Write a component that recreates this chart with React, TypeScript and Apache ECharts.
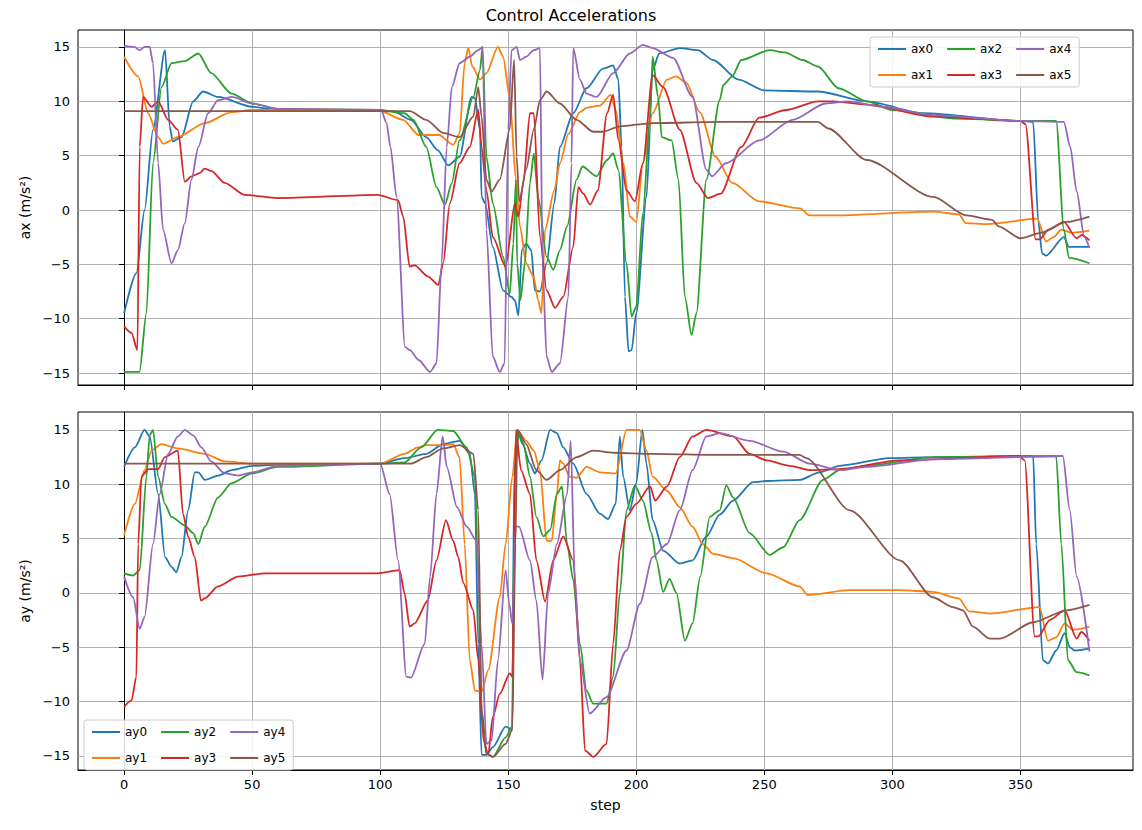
import React, { useEffect, useRef } from "react";
import * as echarts from "echarts";

const xTicks = [0, 50, 100, 150, 200, 250, 300, 350];
const yTicks = [-15, -10, -5, 0, 5, 10, 15];
const colors = ["#1f77b4", "#ff7f0e", "#2ca02c", "#d62728", "#9467bd", "#8c564b"];
const axNames = ["ax0", "ax1", "ax2", "ax3", "ax4", "ax5"];
const ayNames = ["ay0", "ay1", "ay2", "ay3", "ay4", "ay5"];

const ax0 = [[0,-9.5],[4.8,-5.8],[8,0],[11.3,7.4],[16,14.7],[17.8,7.7],[19,6.3],[22.4,6.7],[27,10],[30.8,10.9],[36.7,10.4],[50,9.5],[60,9.2],[99,9.2],[105,9.1],[112,8.3],[118,6.7],[122.5,5.5],[126.6,4.1],[131,4.9],[135.7,10.4],[137,10.3],[139,7.4],[139.6,1.2],[141,0.6],[144,-3.4],[148,-7.4],[151.3,-8],[152.6,-8.3],[154,-9.7],[155.3,-3.7],[157,-3.1],[159,-3.7],[160.4,-7.4],[162.4,-7.5],[165,-4.9],[168,0.6],[170.2,5.8],[175.4,8.9],[180.6,11.2],[187,13],[191,13.3],[193,12],[194.3,5.8],[195.6,-8],[197,-13],[198.2,-12.9],[200,-9.5],[204,1.2],[206.4,12.9],[209,14.4],[217,14.9],[224,14.7],[230,13.8],[240,12],[250,11],[271,10.9],[290,10],[312,8.9],[350,8.2],[355,8.1],[357,-1],[358.5,-4],[360,-4.2],[367,-2.5],[369,-3.4],[377,-3.4]];
const ax1 = [[0,14.1],[5.5,12.3],[9.4,8.9],[13.3,6.7],[15.2,6.1],[21,6.7],[31.5,8],[42,9],[50,9.2],[99,9.2],[109,8.3],[115,6.9],[123,6.9],[128.5,6],[131,7],[133,13.5],[134.4,14.9],[136,13.2],[139,12],[141.5,12.6],[146,15],[148,14.1],[150.6,10.4],[153,2.8],[154.6,-1.5],[157,-4.9],[159.9,-6.1],[161.7,-8.3],[163,-9.5],[164.4,-1.8],[168,1.8],[170.2,4.3],[173.5,7],[178,9],[180.6,9.4],[185.8,9.6],[190,10.6],[192,9.2],[195,4.3],[197.5,-0.6],[200,-1.1],[202.6,4.3],[206.4,8.9],[212,12],[215.5,12.3],[219.6,11.7],[224.8,9],[231,4.9],[237.5,2.5],[248,0.8],[264,0.15],[267.6,-0.5],[276,-0.5],[316,-0.15],[326,-0.4],[328.7,-1.2],[337,-1.3],[356.6,-0.8],[360,-2.9],[363,-2.5],[366,-1.8],[370,-2.1],[377,-1.9]];
const ax2 = [[0,-14.9],[6,-14.9],[8.7,-9.5],[11.3,4.3],[14.6,11.3],[18.5,13.5],[23.7,13.7],[29,14.4],[34,12.6],[42,10.7],[50,9.8],[60,9.3],[99,9.2],[109.5,8.9],[113,8.3],[118,5.8],[122,2.1],[125.3,0.5],[128,2.5],[131,6.4],[136.4,10.4],[139,12.9],[140,15],[141.5,4.9],[144,0.6],[148,-4.3],[150.6,-7.7],[152,-3.1],[153,2.8],[153.5,-4.9],[154.8,-8.3],[156.5,-4.9],[158.5,2.5],[160,5.2],[161.7,1.2],[165,-4.3],[167.6,-5.5],[170.2,-3.7],[173,-1.5],[176.7,2.8],[179,4],[184.5,3.1],[188.6,4.6],[191,5.2],[193,3.7],[196.2,-4.9],[198.2,-9.8],[200,-8.9],[202.6,-0.3],[205.5,8.9],[206.4,14.1],[208.5,10.4],[210,6.7],[213.8,6.4],[216.5,2.8],[219,-8],[221.6,-11.5],[223.5,-9.5],[227.4,2.8],[232.6,10.1],[234,11.5],[237.5,12.3],[241,13.8],[252,14.7],[258,14.5],[265,13.8],[271,13.2],[279,11.2],[290,10],[300,9.2],[325,8.4],[350,8.2],[364,8.2],[367,-1.8],[369,-4.4],[377,-4.9]];
const ax3 = [[0,-10.7],[2.9,-11.3],[5.2,-12.9],[6.1,5.8],[7.4,10.4],[10.7,9.5],[13.3,10],[17.2,8.3],[21,7.4],[23.7,2.6],[26.3,3.1],[29.5,3.4],[31.5,3.8],[34,3.6],[39.3,2.5],[47,1.4],[60,1.1],[99,1.4],[107,0.9],[109,-0.6],[111.5,-5.2],[113.5,-5.1],[118.6,-6.1],[122.7,-6.9],[124.6,-4.9],[127.2,0.6],[131,4.3],[135,5.8],[138.3,9.2],[139.6,5.8],[141.5,1.8],[144,-2.5],[149,-5.2],[152.6,0.6],[154,-0.6],[155.9,2.5],[158.5,8.9],[160,8.9],[162.4,-2.5],[165,-7.4],[168.3,-9],[171.5,-8],[175.4,-3.4],[177.4,2.1],[179.3,1.5],[182,0.5],[185,1.8],[188.6,8.9],[191,10.6],[193,6.5],[196.2,1.8],[199.5,0.8],[202.6,4.3],[206.4,12.4],[210.5,11.3],[217,7.4],[223.5,2.5],[228,1.1],[233,1.5],[241,5.8],[248,8.5],[258.5,9.2],[271,10],[277,10],[290,9.7],[316,8.6],[350,8.2],[352,7.9],[356,-2.7],[357.5,-2.7],[361,-1.8],[367,-1.1],[372,-2.6],[374,-2.3],[377,-2.8]];
const ax4 = [[0,15.1],[4,15],[6.1,14.7],[8,15],[10,15],[11.3,13.5],[13.3,4.3],[15.2,-1.8],[18.5,-4.9],[21,-3.7],[23.7,-1.2],[26.3,2.8],[29,5.8],[32.8,8.9],[36.7,10.1],[42,10.4],[50,9.8],[60,9.3],[100.4,9.2],[102.5,8],[104,5.8],[106.4,1.2],[109.7,-12.6],[111.6,-12.9],[115,-13.8],[119.5,-14.9],[122,-14.1],[124,-4.9],[126,5.8],[128,11.3],[131,13.5],[135,14.1],[138.3,14.7],[140,15],[141.5,-1.8],[144,-13.5],[146.7,-14.9],[148.6,-14.1],[150,7.4],[151.3,14.7],[153.3,15],[154.6,13.8],[157,14.1],[160,14.7],[162.4,14.9],[163.4,-4.9],[165,-13.5],[167,-14.9],[170.2,-14.1],[173.5,-8],[174.7,4.3],[175.4,14.9],[178,12],[180.6,10.7],[184.5,10.4],[191,12.6],[197.5,14.4],[202.6,15.2],[206.4,14.9],[214.4,14],[222,10.4],[227.4,3.7],[229.6,3.1],[235,4.3],[248,6.4],[261,8.3],[274,9.8],[283,10],[296,9.5],[317,8.7],[350,8.2],[367,8.1],[369.5,5.8],[372,1.7],[375,-2.5],[377,-3.5]];
const ax5 = [[0,9.1],[105,9.1],[111.6,9.1],[118,8.3],[124.6,7.1],[131,6.7],[136.4,8.6],[138.3,11.3],[139.6,8.6],[141.5,2.8],[143.5,1.7],[146.7,2.8],[150.6,7.4],[152.3,13.8],[153.3,4.9],[154.3,0.8],[157,3.7],[160,7.4],[162.4,10.1],[165,10.9],[170.2,9.8],[176.7,8.3],[183.2,7.2],[187,7.2],[193.6,7.7],[206.4,8],[232.6,8.1],[271,8.1],[275,7.5],[290,4.6],[316,1.2],[329,-0.5],[339,-0.9],[341.5,-1.5],[350,-2.6],[358,-2.1],[368,-1.1],[377,-0.6]];

const ay0 = [[0,11.6],[4.2,13.4],[8,15],[10,14.4],[13.3,9.1],[16,3.3],[18.5,2.4],[20.4,1.9],[22.4,3.3],[25,7.6],[27.6,11.1],[29,11.1],[31.5,10.4],[36.7,10.8],[42,11.3],[50,11.7],[60,11.8],[100,11.9],[109.5,12.4],[118,12.8],[124.6,13.7],[131,14],[135,12.8],[137,9.1],[138.3,-4.7],[139.6,-14.9],[141.5,-14.9],[144,-14.2],[149,-12.3],[151.6,-12.6],[152.3,10.7],[153.6,15],[155.6,13.7],[158.5,11.9],[160.4,11],[163,12.2],[166.4,15],[169,14.7],[171.5,13.4],[175.4,11.9],[180.6,9.1],[185.8,7.3],[189,6.8],[192,8.2],[193.6,14.4],[194.9,10.7],[197.5,7.6],[200,10.1],[202.4,15],[204,11.9],[206.4,6.7],[210.5,3.9],[217,2.7],[222,3],[227.4,5.2],[232.6,7.2],[237.8,8.5],[245.6,10.2],[250.9,10.3],[263.8,10.4],[271.6,11.1],[279.4,11.7],[298.9,12.4],[315.8,12.5],[355,12.6],[356.2,4.5],[358.8,-6.2],[360.8,-6.5],[364,-5.3],[367.3,-3.7],[369.3,-5],[371.2,-5.3],[377,-5.1]];
const ay1 = [[0,5.3],[4.2,8.2],[8,11.3],[10.7,13.1],[14.6,13.7],[21,13.3],[31.5,12.8],[39.3,12.1],[50,11.9],[100,11.9],[109.5,12.8],[114.8,13.4],[118,13.6],[124.6,13.6],[128.5,13.7],[131,12.5],[133,4.5],[135,-6.2],[137,-9],[139.6,-9.1],[142.2,-7.1],[146.7,-0.4],[149,4.5],[151.6,10.7],[153.6,15],[157,14],[160,13.1],[162.4,11.3],[165,4.8],[167,4.8],[169,9.1],[170.2,12.2],[171.5,11.9],[174,10.7],[176.7,10.6],[180.6,11.6],[185.8,11.1],[192,11],[196.2,15],[201.4,15],[204,13.1],[206.4,10.7],[212,9.4],[217,7.9],[222,6.1],[226,4.5],[230,3.6],[237.8,3.2],[250.9,1.8],[263.8,0.6],[267,-0.2],[283.4,0.25],[302.9,0.25],[315.8,0.1],[326,-0.5],[330,-1.7],[338,-1.9],[357.5,-1.3],[360.8,-4.4],[364,-4.1],[367.3,-2.8],[370.5,-3.4],[377,-3.1]];
const ay2 = [[0,1.8],[3.5,1.6],[6.1,2.1],[8.7,10.7],[10,14.5],[11.3,15],[13.3,10.7],[15.9,8.2],[18.5,7],[23.7,6.2],[27,5.5],[29,4.5],[31.5,6.1],[36.7,8.8],[42,10.1],[50,11],[60,11.6],[100,11.9],[109.5,12],[116,13.4],[122.5,15],[128.5,14.9],[133.8,13.4],[137,10.7],[138.3,1.5],[139.6,-10.8],[141.5,-14.8],[144,-15.1],[149,-13.3],[151.6,-12.3],[152.6,11.3],[154.2,14.7],[156,13.7],[158.5,10.7],[161,7],[163.7,5.2],[166.4,5.8],[169,9.1],[171,9.8],[173,4.5],[175.4,1.2],[178,-4.7],[180.6,-9],[183.2,-10.2],[188.4,-10.2],[191,-7.7],[193.6,0],[196.2,7.6],[199.5,9.9],[202.6,8.5],[206,5.5],[207.9,3],[210.5,0.1],[213,1.3],[215.7,0],[219,-4.4],[222,-2.8],[225,1.5],[228.7,7],[232.6,7.6],[235.2,9.9],[237.8,8.8],[244.3,5.5],[252.1,3.5],[257.4,4.2],[263.8,6.7],[272.9,10.4],[279.4,11.3],[289.9,11.7],[315.8,12.5],[364,12.6],[366,4.5],[368.6,-6.2],[372,-7.3],[377,-7.6]];
const ay3 = [[0,-10.5],[2.9,-9.9],[4.8,-7.7],[5.5,4.5],[6.8,10.7],[9.4,11.4],[13.3,11.4],[15.9,12.5],[21,13.1],[23,7.3],[25,5.2],[27.6,3.3],[30,-0.7],[31.5,-0.5],[36.7,0.6],[44.5,1.5],[55,1.8],[73,1.8],[99,1.8],[107.6,2.1],[109.5,0],[111.5,-3.1],[113.5,-2.8],[118.6,-0.7],[122,3],[125.7,6.7],[128.5,4.8],[130.5,3.3],[132.5,0.9],[136.4,-1.6],[138.3,-6.2],[140.4,-13.6],[142.2,-14.9],[144,-11.4],[146.7,-9.3],[150.6,-7.4],[151.6,-7.7],[153,15],[155,11.3],[158.5,9.1],[161,3],[164.4,-0.8],[167.6,3],[171.5,5.2],[175.4,3],[178,-6.2],[180,-14.5],[183.2,-15.1],[188.4,-13.9],[191,-4.7],[193.6,3.9],[196.2,7],[200,8.2],[205.4,9.8],[207.4,8.5],[212,9.8],[217,12.5],[222,14.4],[227.4,15],[237.8,14.4],[244.3,12.8],[250.9,12.2],[260,11.7],[267.7,11.3],[279.4,11.4],[302.9,12.2],[349.4,12.6],[351.7,12.2],[355.6,-4],[357,-4],[361.5,-2.5],[367.3,-1.6],[372,-4.2],[373.8,-3.6],[377,-4.4]];
const ay4 = [[0,1.5],[3.5,-0.4],[6.1,-3.3],[8,-2.2],[11.3,4.5],[13.9,9.1],[17.2,12.8],[21,14.4],[23.7,15],[27,14.5],[30.2,13.4],[34,12.1],[39.3,11],[44.5,10.8],[50,11.1],[60,11.7],[100,11.9],[103.7,9.1],[107,3],[110.2,-7.7],[112,-7.8],[117.4,-4.7],[119.5,1.5],[122,9.1],[124.4,14.4],[126,11.6],[130,7.9],[133.8,6.1],[137.6,4.8],[139.6,-4.7],[141.5,-13.9],[143.5,-13.6],[146,-6.2],[149,2.1],[150.4,-1],[151.6,-2.8],[153,6.1],[154.2,6.1],[158.5,3],[161,-0.7],[163.4,-8],[165.6,0],[169,4.5],[173,9.1],[174.4,14],[176,1.5],[178,-6.2],[181.8,-11.1],[188.4,-9.6],[196.2,-5.3],[201.4,-1],[206.4,3.3],[212,4.5],[217,7.6],[222,11.3],[227.4,14.4],[232.6,14.7],[244.3,14],[257.4,13],[267.7,11.9],[279.4,11.3],[289.9,11.6],[315.8,12.3],[366.6,12.6],[369.3,7.6],[372,1.5],[377,-5.4]];
const ay5 = [[0,11.9],[105,11.9],[112,11.9],[118,12.5],[124.6,13.3],[131,13.6],[136.4,12.8],[138.3,7.6],[139.6,-10.8],[141.5,-14.8],[144,-15.1],[149,-13.9],[151.6,-12.6],[152.8,4.5],[153.6,15],[157,13.7],[161,11.3],[165,10.4],[170.2,11.3],[176.7,12.5],[183.2,13.1],[191,12.9],[206.4,12.8],[232.6,12.7],[263.8,12.7],[266.4,12.4],[283.4,7.6],[302.9,3],[315.8,-0.4],[323.7,-1.3],[327.6,-1.6],[331.5,-3.1],[338,-4.2],[342,-4.2],[355,-2.7],[368,-1.6],[377,-1.1]];

const axData = [ax0, ax1, ax2, ax3, ax4, ax5];
const ayData = [ay0, ay1, ay2, ay3, ay4, ay5];

export default function App() {
  const ref = useRef<HTMLDivElement>(null);
  useEffect(() => {
    const chart = echarts.init(ref.current!, null, { renderer: "svg" });
    const font = "DejaVu Sans";
    const mkX = (idx: number, showLabels: boolean) => ({
      type: "value", gridIndex: idx, min: -18, max: 394,
      name: showLabels ? "step" : "", nameLocation: "middle", nameGap: 28,
      nameTextStyle: { fontFamily: font, fontSize: 14, color: "#000" },
      axisLine: { show: true, onZero: false, lineStyle: { color: "#000" } },
      axisTick: { show: true, inside: false, length: 5, customValues: xTicks, lineStyle: { color: "#000" } },
      axisLabel: { show: showLabels, customValues: xTicks, fontFamily: font, fontSize: 13, color: "#000", margin: 8 },
      splitLine: { show: true, lineStyle: { color: "#b0b0b0", width: 1 } },
    });
    const mkY = (idx: number, name: string, min: number, max: number) => ({
      type: "value", gridIndex: idx, min, max, name, nameLocation: "middle", nameGap: 40,
      nameTextStyle: { fontFamily: font, fontSize: 14, color: "#000" },
      axisLine: { show: true, lineStyle: { color: "#000" } },
      axisTick: { show: true, length: 5, customValues: yTicks, lineStyle: { color: "#000" } },
      axisLabel: { customValues: yTicks, fontFamily: font, fontSize: 13, color: "#000", margin: 8,
        formatter: (v: number) => (v < 0 ? "\u2212" + Math.abs(v) : String(v)) },
      splitLine: { show: true, lineStyle: { color: "#b0b0b0", width: 1 } },
    });
    const mkSeries = (names: string[], data: number[][][], idx: number) =>
      names.map((n, i) => ({
        name: n, type: "line", xAxisIndex: idx, yAxisIndex: idx, data: data[i],
        showSymbol: false, smooth: 0.25, smoothMonotone: "x",
        lineStyle: { width: 1.8, color: colors[i] }, itemStyle: { color: colors[i] },
      }));
    const legendBase = {
      orient: "horizontal", itemWidth: 28, itemHeight: 2, itemGap: 14, width: 250,
      icon: "rect", backgroundColor: "rgba(255,255,255,0.85)", borderColor: "#cccccc",
      borderWidth: 1, borderRadius: 3, padding: [6, 8, 6, 8],
      textStyle: { fontFamily: font, fontSize: 12, color: "#000", width: 34 },
    };
    chart.setOption({
      animation: false,
      title: { text: "Control Accelerations", left: "center", top: 2,
        textStyle: { fontFamily: font, fontSize: 16, fontWeight: "normal", color: "#000" } },
      grid: [
        { left: 78, right: 1142 - 1133, top: 30, height: 355, show: true, borderColor: "#000", borderWidth: 1 },
        { left: 78, right: 1142 - 1133, top: 412, height: 358, show: true, borderColor: "#000", borderWidth: 1 },
      ],
      xAxis: [mkX(0, false), mkX(1, true)],
      yAxis: [mkY(0, "ax (m/s\u00b2)", -16.1, 16.56), mkY(1, "ay (m/s\u00b2)", -16.3, 16.65)],
      legend: [
        { ...legendBase, left: 870, top: 37, data: ["ax0", "ax2", "ax4", "ax1", "ax3", "ax5"] },
        { ...legendBase, left: 84, top: 720, data: ["ay0", "ay2", "ay4", "ay1", "ay3", "ay5"] },
      ],
      series: [...mkSeries(axNames, axData, 0), ...mkSeries(ayNames, ayData, 1)],
    });
    return () => chart.dispose();
  }, []);
  return <div ref={ref} style={{ width: 1142, height: 830, marginLeft: -8, marginTop: -8 }} />;
}
